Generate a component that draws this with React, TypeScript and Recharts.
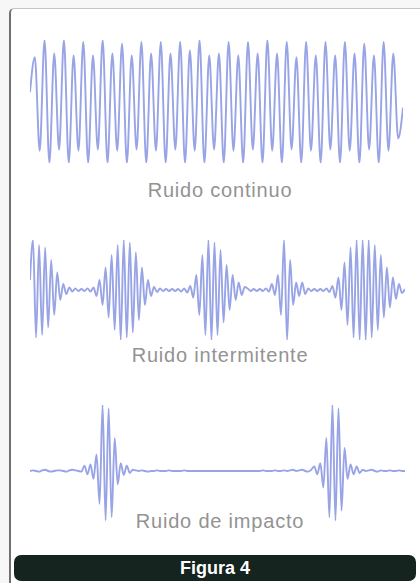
import { LineChart, Line, XAxis, YAxis } from "recharts";

// picos y valles (amplitud relativa, -1..1)
const continuo = [
  0.15,
  0.72, -0.8, 1.0, -1.0, 0.78, -0.78, 1.0, -1.0, 0.75, -0.8,
  0.97, -1.0, 0.75, -0.78, 1.0, -1.0, 0.78, -0.8, 0.94, -1.0,
  0.75, -0.78, 0.97, -1.0, 0.78, -0.8, 0.97, -1.0, 0.78, -0.78,
  0.97, -1.0, 0.83, -0.8, 1.0, -1.0, 0.75, -0.78, 0.78, -1.0,
  0.97, -0.8, 0.75, -1.0, 0.97, -0.78, 0.78, -1.0, 1.0, -0.8,
  0.78, -1.0, 0.97, -0.78, 0.72, -1.0, 0.97, -0.8, 0.75, -1.0,
  0.97, -0.78, 0.75, -1.0, 0.97, -0.8, 0.78, -1.0, 0.94, -0.78,
  0.75, -1.0, 0.97, -0.8, 0.78, -0.6,
  -0.1,
];

const intermitente = [
  // rafaga 1
  0.2, 1.0, -0.95, 0.9, -0.9, 0.85, -0.75, 0.6, -0.5, 0.35, -0.2,
  // pausa
  0.12, -0.08, 0.05, -0.03, 0.03, -0.02, 0.02, -0.02, 0.03, -0.03, 0.05,
  // rafaga 2
  -0.12, 0.2, -0.3, 0.45, -0.55, 0.7, -0.8, 0.9, -1.0, 1.0,
  -0.95, 0.95, -0.85, 0.75, -0.6, 0.45, -0.3, 0.2, -0.12,
  // pausa
  0.06, -0.04, 0.03, -0.02, 0.02, -0.02, 0.02, -0.02, 0.02, -0.03, 0.03, -0.05, 0.08,
  // rafaga 3
  -0.15, 0.3, -0.5, 0.7, -0.9, 1.0, -1.0, 0.95, -0.9,
  0.8, -0.65, 0.5, -0.4, 0.3, -0.2, 0.15, -0.1, 0.06,
  // pausa
  0.03, -0.02, 0.02, -0.02, 0.02, -0.02, 0.03, -0.03,
  // rafaga 4
  0.12, -0.1, 0.3, -0.5, 1.0, -1.0, 0.6, -0.3, 0.15, -0.12, 0.15, -0.08,
  // pausa
  0.03, -0.02, 0.02, -0.02, 0.02, -0.02, 0.03, -0.04,
  // rafaga 5
  0.08, -0.15, 0.25, -0.4, 0.55, -0.7, 0.85, -0.95, 1.0, -1.0, 1.0, -1.0, 1.0,
  -0.95, 0.9, -0.8, 0.7, -0.55, 0.45, -0.35, 0.25, -0.18, 0.12, -0.06, 0.02,
];

const impacto = [
  0, 0.01, 0, -0.01, 0.01, 0.02, 0, -0.01, 0, 0.01, 0.01, 0, -0.01, 0.01, 0.02, 0.01, 0, -0.01,
  // golpe 1
  0.08, -0.05, 0.1, -0.12, 0.25,
  -0.5, 1.0, -0.75, 0.95, -0.7, 0.5,
  -0.2, 0.12, -0.06, 0.08, -0.03,
  // silencio
  0.02, 0.01, 0, 0.01, 0, -0.01, 0, 0, 0.01, 0,
  0, 0, 0.01, 0, 0, 0, 0, 0.01, 0, 0,
  0, 0, 0, 0, 0, 0, 0, 0, 0, 0,
  0, 0, 0, 0, 0, 0, 0, 0, 0, 0,
  0, 0, 0, 0.01, 0, 0, 0, 0.01, 0, 0,
  0.01, 0, 0.01, 0.02, 0, 0.01, 0.02, 0, -0.01, 0.02,
  // golpe 2
  0.07, -0.05, 0.12,
  -0.25, 0.5, -0.7, 1.0, -0.75, 0.95, -0.6, 0.35,
  -0.12, 0.1, -0.05, 0.07, -0.03,
  0.02, 0, 0.01, 0.02, 0, -0.01, 0.01, 0, 0, 0.01, 0, 0, 0.01, 0, 0,
];

const etiquetas = ["Ruido continuo", "Ruido intermitente", "Ruido de impacto"];
const titulo = "Figura 4";

const COLOR = "#98a4e6";

const toRows = (vals: number[]) => vals.map((v, i) => ({ i, v }));

function Onda({ values, left, top, width, height }: { values: number[]; left: number; top: number; width: number; height: number }) {
  return (
    <div style={{ position: "absolute", left, top }}>
      <LineChart width={width} height={height} data={toRows(values)} margin={{ top: 0, right: 0, bottom: 0, left: 0 }}>
        <XAxis dataKey="i" type="number" domain={["dataMin", "dataMax"]} hide />
        <YAxis domain={[-1, 1]} hide />
        <Line type="monotone" dataKey="v" stroke={COLOR} strokeWidth={1.9} dot={false} isAnimationActive={false} />
      </LineChart>
    </div>
  );
}

const labelStyle: React.CSSProperties = {
  position: "absolute",
  left: 0,
  width: 440,
  textAlign: "center",
  fontFamily: "'Liberation Sans', Arial, sans-serif",
  fontSize: 20,
  lineHeight: "20px",
  letterSpacing: 0.8,
  color: "#939393",
};

export default function App() {
  return (
    <div style={{ position: "relative", width: 420, height: 583, background: "#f7f7f7", overflow: "hidden" }}>
      <style>{`body{margin:0}`}</style>
      <div
        style={{
          position: "absolute",
          left: 9,
          top: 8,
          width: 440,
          height: 600,
          background: "#fff",
          borderLeft: "2px solid #707070",
          borderTop: "1px solid #c4c4c4",
          borderTopLeftRadius: 5,
        }}
      />
      <Onda values={continuo} left={30} top={40} width={373} height={123} />
      <Onda values={intermitente} left={30} top={240} width={375} height={100} />
      <Onda values={impacto} left={30} top={405} width={375} height={132} />

      <div style={{ ...labelStyle, top: 180 }}>{etiquetas[0]}</div>
      <div style={{ ...labelStyle, top: 345 }}>{etiquetas[1]}</div>
      <div style={{ ...labelStyle, top: 511 }}>{etiquetas[2]}</div>

      <div
        style={{
          position: "absolute",
          left: 14,
          top: 555,
          width: 402,
          height: 26,
          background: "#15241f",
          borderRadius: 7,
          color: "#fff",
          fontFamily: "'Liberation Sans', Arial, sans-serif",
          fontWeight: 700,
          fontSize: 18,
          lineHeight: "26px",
          textAlign: "center",
        }}
      >
        {titulo}
      </div>
    </div>
  );
}
